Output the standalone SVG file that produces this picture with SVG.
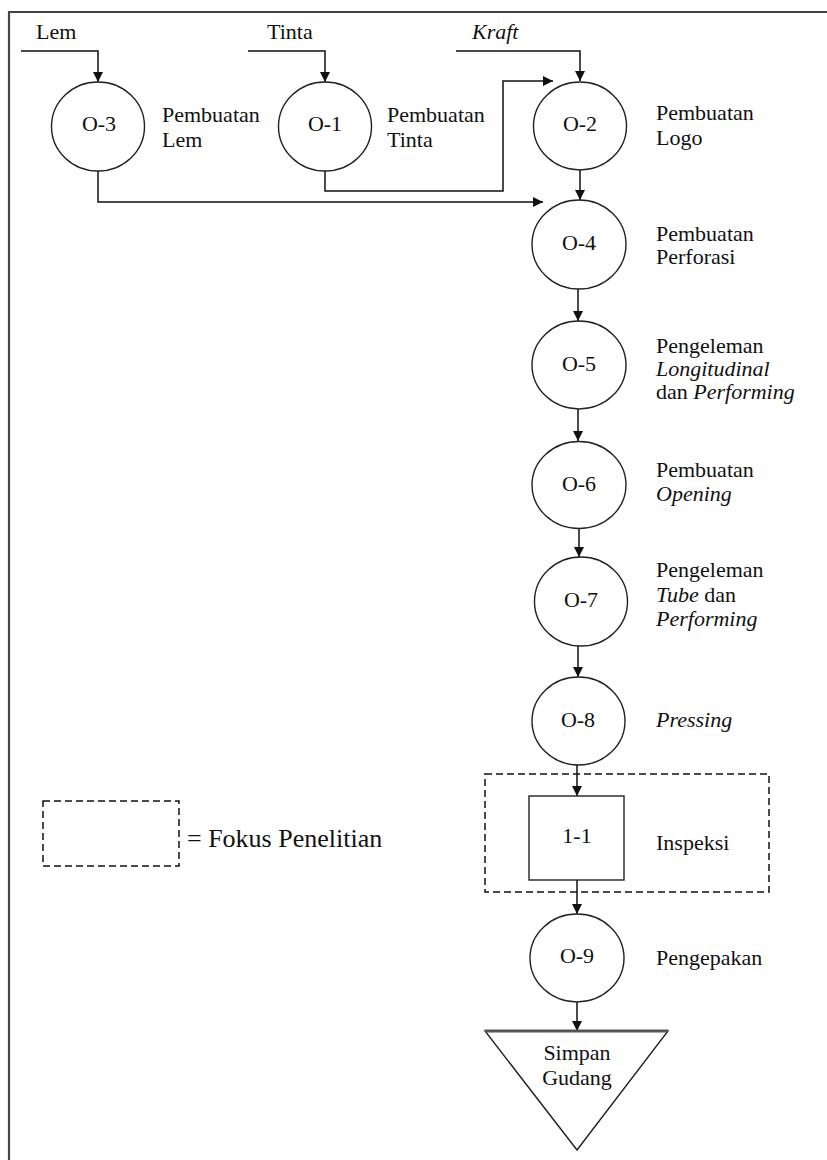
<svg xmlns="http://www.w3.org/2000/svg" width="827" height="1160" viewBox="0 0 827 1160" font-family="'Liberation Serif', 'DejaVu Serif', serif">
<style>
  .frame { fill: none; stroke: #444; stroke-width: 2.2; }
  .op { fill: #fff; stroke: #222; stroke-width: 1.4; }
  .conn { fill: none; stroke: #111; stroke-width: 1.5; }
  .dash { fill: none; stroke: #111; stroke-width: 1.5; stroke-dasharray: 7 4; }
  text { font-family: 'Liberation Serif', 'DejaVu Serif', serif; font-size: 22px; fill: #111; }
  .c { text-anchor: middle; }
  .i { font-style: italic; }
  .legend { font-size: 26px; }
</style>
<defs>
  <marker id="arr" viewBox="0 0 10 10" refX="10" refY="5" markerWidth="10" markerHeight="10" markerUnits="userSpaceOnUse" orient="auto">
    <path d="M0,0 L10,5 L0,10 Z" fill="#111"/>
  </marker>
</defs>
<rect width="827" height="1160" fill="#fff"/>
<path class="frame" d="M9,1162 V12 H829"/>

<g id="connectors">
  <path class="conn" d="M21,51 H98 V82" marker-end="url(#arr)"/>
  <path class="conn" d="M248,51 H325 V82" marker-end="url(#arr)"/>
  <path class="conn" d="M456,51 H580 V81" marker-end="url(#arr)"/>
  <path class="conn" d="M325,171 V191 H503 V81 H553" marker-end="url(#arr)"/>
  <path class="conn" d="M98,171 V202 H543" marker-end="url(#arr)"/>
  <path class="conn" d="M580,170 V200" marker-end="url(#arr)"/>
  <path class="conn" d="M578,289 V321" marker-end="url(#arr)"/>
  <path class="conn" d="M578,409 V441" marker-end="url(#arr)"/>
  <path class="conn" d="M579,529 V557" marker-end="url(#arr)"/>
  <path class="conn" d="M578,645 V677" marker-end="url(#arr)"/>
  <path class="conn" d="M577,765 V796" marker-end="url(#arr)"/>
  <path class="conn" d="M577,880 V914" marker-end="url(#arr)"/>
  <path class="conn" d="M577,1002 V1031" marker-end="url(#arr)"/>
</g>

<g id="in-lem"><text x="36" y="39">Lem</text></g>
<g id="in-tinta"><text x="267" y="39">Tinta</text></g>
<g id="in-kraft"><text x="472" y="39" class="i">Kraft</text></g>

<g id="O-3">
  <ellipse class="op" cx="98" cy="126.5" rx="46.5" ry="44.5"/>
  <text x="99" y="131" class="c">O-3</text>
  <text x="162" y="122">Pembuatan</text>
  <text x="162" y="147">Lem</text>
</g>
<g id="O-1">
  <ellipse class="op" cx="325" cy="126.5" rx="46.5" ry="44.5"/>
  <text x="325" y="131" class="c">O-1</text>
  <text x="387" y="122">Pembuatan</text>
  <text x="387" y="147">Tinta</text>
</g>
<g id="O-2">
  <ellipse class="op" cx="580" cy="126" rx="46.5" ry="44"/>
  <text x="580" y="131" class="c">O-2</text>
  <text x="656" y="120">Pembuatan</text>
  <text x="656" y="145">Logo</text>
</g>
<g id="O-4">
  <ellipse class="op" cx="579" cy="244.5" rx="47" ry="44.5"/>
  <text x="579" y="250" class="c">O-4</text>
  <text x="656" y="241">Pembuatan</text>
  <text x="656" y="264">Perforasi</text>
</g>
<g id="O-5">
  <ellipse class="op" cx="579" cy="365" rx="47" ry="44"/>
  <text x="579" y="371" class="c">O-5</text>
  <text x="656" y="353">Pengeleman</text>
  <text x="656" y="376" class="i">Longitudinal</text>
  <text x="656" y="399">dan <tspan class="i">Performing</tspan></text>
</g>
<g id="O-6">
  <ellipse class="op" cx="579" cy="485" rx="47" ry="43.5"/>
  <text x="579" y="491" class="c">O-6</text>
  <text x="656" y="477">Pembuatan</text>
  <text x="656" y="501" class="i">Opening</text>
</g>
<g id="O-7">
  <ellipse class="op" cx="581" cy="601.5" rx="46.5" ry="44.5"/>
  <text x="581" y="607" class="c">O-7</text>
  <text x="656" y="577">Pengeleman</text>
  <text x="656" y="602"><tspan class="i">Tube</tspan> dan</text>
  <text x="656" y="626" class="i">Performing</text>
</g>
<g id="O-8">
  <ellipse class="op" cx="578.5" cy="721" rx="46.5" ry="44"/>
  <text x="578" y="727" class="c">O-8</text>
  <text x="656" y="727" class="i">Pressing</text>
</g>

<g id="focus-box">
  <rect class="dash" x="485" y="774" width="284" height="118"/>
</g>
<g id="I-1">
  <rect class="op" x="529" y="796" width="95" height="84"/>
  <text x="577" y="843" class="c">1-1</text>
  <text x="656" y="850">Inspeksi</text>
</g>
<g id="O-9">
  <ellipse class="op" cx="577" cy="958" rx="47" ry="44"/>
  <text x="577" y="963" class="c">O-9</text>
  <text x="656" y="965">Pengepakan</text>
</g>
<g id="storage">
  <polygon class="op" points="485,1031 668,1031 577,1150"/>
  <line x1="485" y1="1031" x2="668" y2="1031" stroke="#555" stroke-width="3"/>
  <text x="577" y="1060" class="c">Simpan</text>
  <text x="577" y="1085" class="c">Gudang</text>
</g>

<g id="legend">
  <rect class="dash" x="43" y="801" width="136" height="65"/>
  <text x="187" y="847" class="legend">= Fokus Penelitian</text>
</g>
</svg>
